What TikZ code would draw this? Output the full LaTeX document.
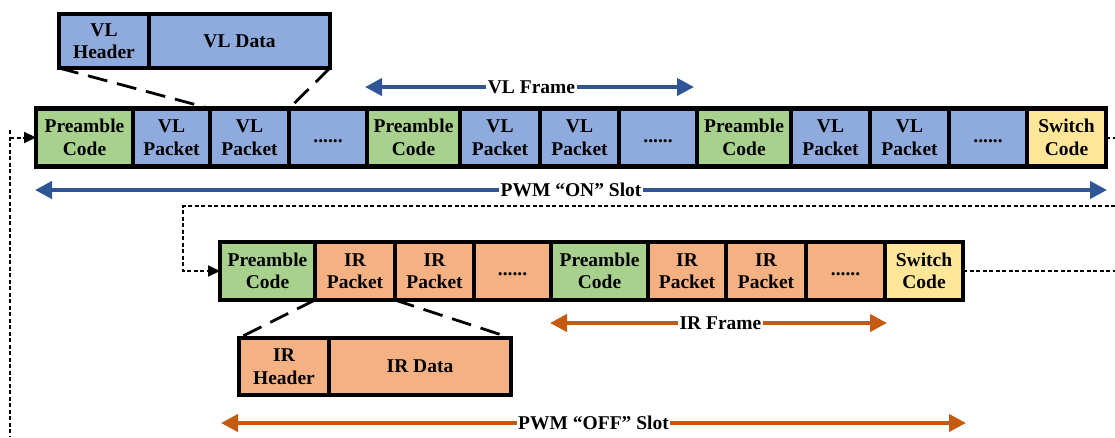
\documentclass[tikz,border=0pt]{standalone}
\usepackage{fontspec}
\setmainfont{Liberation Serif}
\usetikzlibrary{arrows.meta}
\definecolor{cgreen}{HTML}{A9D18E}
\definecolor{cblue}{HTML}{8FAADC}
\definecolor{corange}{HTML}{F4B183}
\definecolor{cyellow}{HTML}{FFE699}
\definecolor{ablue}{HTML}{2F5597}
\definecolor{aorange}{HTML}{C55A11}
\newcommand\cellnode[7]{\node[cell, fill=#6, minimum width={#3-#2}, minimum height=#5] (#1) at ({(#2+#3)/2},#4) {#7};}
\begin{document}
\begin{tikzpicture}[x=1pt,y=-1pt,
  font=\fontsize{19.5}{22.5}\selectfont\bfseries,
  cell/.style={draw=black, line width=3.5pt, inner sep=0pt, outer sep=0pt, align=center},
  outerbox/.style={draw=black, line width=4.5pt},
  zoomline/.style={draw=black, line width=2.8pt, dash pattern=on 20pt off 10pt},
  dotline/.style={draw=black, line width=2pt, dash pattern=on 4pt off 2.5pt},
  dotarrow/.style={dotline, -{Triangle[length=12pt,width=11pt]}},
  barrow/.style={line width=4pt, {Triangle[length=17pt,width=17pt]}-{Triangle[length=17pt,width=17pt]}},
  lbl/.style={fill=white, text=black, inner sep=1.5pt}
]
\useasboundingbox (0,0) rectangle (1115,437);

% VL row
\cellnode{vl1}{36}{133}{137.5}{58pt}{cgreen}{Preamble\\Code}
\cellnode{vl2}{133}{210}{137.5}{58pt}{cblue}{VL\\Packet}
\cellnode{vl3}{210}{289}{137.5}{58pt}{cblue}{VL\\Packet}
\cellnode{vl4}{289}{367}{137.5}{58pt}{cblue}{\strut......}
\cellnode{vl5}{367}{460}{137.5}{58pt}{cgreen}{Preamble\\Code}
\cellnode{vl6}{460}{540}{137.5}{58pt}{cblue}{VL\\Packet}
\cellnode{vl7}{540}{619}{137.5}{58pt}{cblue}{VL\\Packet}
\cellnode{vl8}{619}{697}{137.5}{58pt}{cblue}{\strut......}
\cellnode{vl9}{697}{791}{137.5}{58pt}{cgreen}{Preamble\\Code}
\cellnode{vl10}{791}{870}{137.5}{58pt}{cblue}{VL\\Packet}
\cellnode{vl11}{870}{949}{137.5}{58pt}{cblue}{VL\\Packet}
\cellnode{vl12}{949}{1027}{137.5}{58pt}{cblue}{\strut......}
\cellnode{vl13}{1027}{1106}{137.5}{58pt}{cyellow}{Switch\\Code}
\draw[outerbox] (vl1.north west) rectangle (vl13.south east);

% IR row
\cellnode{ir1}{220}{315}{271}{58pt}{cgreen}{Preamble\\Code}
\cellnode{ir2}{315}{395}{271}{58pt}{corange}{IR\\Packet}
\cellnode{ir3}{395}{474}{271}{58pt}{corange}{IR\\Packet}
\cellnode{ir4}{474}{551}{271}{58pt}{corange}{\strut......}
\cellnode{ir5}{551}{648}{271}{58pt}{cgreen}{Preamble\\Code}
\cellnode{ir6}{648}{726}{271}{58pt}{corange}{IR\\Packet}
\cellnode{ir7}{726}{806}{271}{58pt}{corange}{IR\\Packet}
\cellnode{ir8}{806}{885}{271}{58pt}{corange}{\strut......}
\cellnode{ir9}{885}{963}{271}{58pt}{cyellow}{Switch\\Code}
\draw[outerbox] (ir1.north west) rectangle (ir9.south east);

% headers
\cellnode{vlh}{59}{149}{41}{54pt}{cblue}{VL\\Header}
\cellnode{vld}{149}{330}{41}{54pt}{cblue}{VL Data}
\draw[outerbox] (vlh.north west) rectangle (vld.south east);
\cellnode{irh}{239}{329}{366.5}{57pt}{corange}{IR\\Header}
\cellnode{ird}{329}{511}{366.5}{57pt}{corange}{IR Data}
\draw[outerbox] (irh.north west) rectangle (ird.south east);

% zoom lines
\draw[zoomline] (vlh.south west) -- (vl3.north west);
\draw[zoomline] (vld.south east) -- (vl3.north east);
\draw[zoomline] (ir2.south west) -- (irh.north west);
\draw[zoomline] (ir3.south west) -- (ird.north east);

% frame / slot arrows
\coordinate (vfa) at (365,87);
\coordinate (vfb) at (694,87);
\draw[barrow, ablue] (vfa) -- node[lbl, xshift=2pt] {VL Frame} (vfb);
\coordinate (ona) at (35,190);
\coordinate (onb) at (1107,190);
\draw[barrow, ablue] (ona) -- node[lbl] {PWM “ON” Slot} (onb);
\coordinate (ifa) at (550,323);
\coordinate (ifb) at (887,323);
\draw[barrow, aorange] (ifa) -- node[lbl, xshift=2pt] {IR Frame} (ifb);
\coordinate (ofa) at (221,423);
\coordinate (ofb) at (966,423);
\draw[barrow, aorange] (ofa) -- node[lbl] {PWM “OFF” Slot} (ofb);

% dotted loop lines
\coordinate (lt) at (10,130);
\coordinate (lc) at (10,137.5);
\coordinate (lb) at (10,437);
\draw[dotline] (lt) -- (lb);
\draw[dotarrow] (lc) -- (vl1.west);
\coordinate (r1) at (1115,137.5);
\draw[dotline] (vl13.east) -- (r1);
\coordinate (r2) at (1115,206);
\coordinate (c2) at (183,206);
\draw[dotarrow] (r2) -- (c2) |- (ir1.west);
\coordinate (r3) at (1115,271);
\draw[dotline] (ir9.east) -- (r3);
\end{tikzpicture}
\end{document}
